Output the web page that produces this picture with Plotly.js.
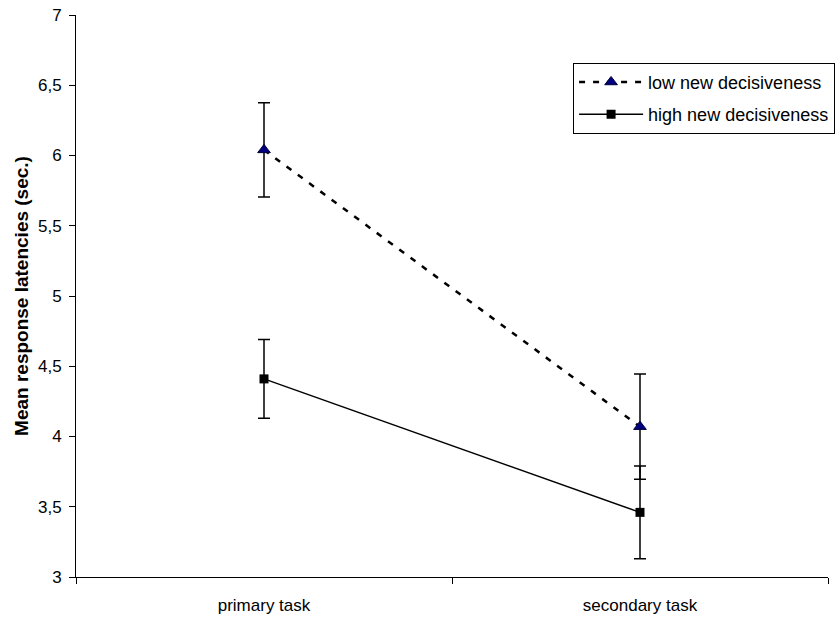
<!DOCTYPE html>
<html>
<head>
<meta charset="utf-8">
<script src="https://cdn.plot.ly/plotly-3.0.1.min.js"></script>
<style>html,body{margin:0;padding:0;background:#fff;}#chart{width:840px;height:620px;}</style>
</head>
<body>
<div id="chart"></div>
<script>
const categories = ["primary task", "secondary task"];
const lowValues = [6.04, 4.07];
const lowErrors = [0.335, 0.375];
const highValues = [4.41, 3.46];
const highErrors = [0.28, 0.33];
const yTickVals = [3, 3.5, 4, 4.5, 5, 5.5, 6, 6.5, 7];
const yTickText = ["3", "3,5", "4", "4,5", "5", "5,5", "6", "6,5", "7"];

const FONT = "Liberation Sans, Arial, sans-serif";

const traces = [
  {
    x: categories, y: lowValues, type: "scatter", mode: "lines+markers",
    name: "low new decisiveness", legendgroup: "a",
    line: {color: "#000000", width: 2.5, dash: "6px,8px"},
    marker: {symbol: "triangle-up", size: 11, color: "#000080", line: {color: "#000033", width: 1}},
    error_y: {type: "data", array: lowErrors, visible: true, color: "#000000", thickness: 1.5, width: 6}
  },
  {
    x: categories, y: highValues, type: "scatter", mode: "lines+markers",
    name: "high new decisiveness", legendgroup: "b",
    line: {color: "#000000", width: 1.5},
    marker: {symbol: "square", size: 9, color: "#000000"},
    error_y: {type: "data", array: highErrors, visible: true, color: "#000000", thickness: 1.5, width: 6}
  }
];

const layout = {
  width: 840, height: 620,
  margin: {l: 76, r: 12, t: 15, b: 43, autoexpand: false},
  paper_bgcolor: "#ffffff", plot_bgcolor: "#ffffff",
  font: {family: FONT, size: 17, color: "#000000"},
  showlegend: true,
  legend: {
    x: 0.661, y: 0.915, xanchor: "left", yanchor: "top",
    bordercolor: "#000000", borderwidth: 1, bgcolor: "#ffffff",
    font: {family: FONT, size: 18, color: "#000000"},
    traceorder: "grouped", tracegroupgap: 6, itemwidth: 64
  },
  xaxis: {
    type: "category", range: [-0.5, 1.5],
    showline: true, linecolor: "#000000", linewidth: 1,
    ticks: "outside", tickson: "boundaries", ticklen: 6, tickcolor: "#000000",
    showgrid: false, zeroline: false, ticklabelstandoff: 13,
    tickfont: {family: FONT, size: 17}
  },
  yaxis: {
    range: [3, 7], tickvals: yTickVals, ticktext: yTickText,
    showline: true, linecolor: "#000000", linewidth: 1,
    ticks: "outside", ticklen: 6, tickcolor: "#000000",
    showgrid: false, zeroline: false, ticklabelstandoff: 4,
    tickfont: {family: FONT, size: 17},
    title: {text: "<b>Mean response latencies (sec.)</b>", font: {family: FONT, size: 19}, standoff: 4}
  }
};

Plotly.newPlot("chart", traces, layout, {staticPlot: true, displayModeBar: false});
</script>
</body>
</html>
